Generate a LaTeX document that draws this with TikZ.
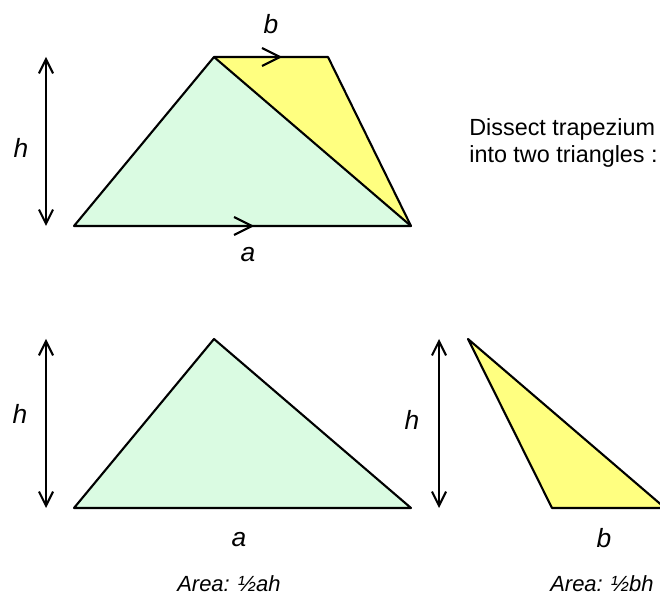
\documentclass[tikz,border=0pt]{standalone}
\usepackage{fontspec}
\setmainfont{Liberation Sans}
\usetikzlibrary{arrows.meta}
\definecolor{mint}{RGB}{218,251,226}
\definecolor{lemon}{RGB}{255,255,128}
\tikzset{
  edge/.style={line width=1.2pt, line join=round},
  dim/.style={line width=1.2pt, {Straight Barb[length=8pt,width=8pt,line width=1.2pt]}-{Straight Barb[length=8pt,width=8pt,line width=1.2pt]}},
  chev/.style={line width=1.2pt, line join=miter},
  lbl/.style={font=\fontsize{15}{17}\selectfont\itshape, inner sep=0pt},
  note/.style={font=\fontsize{13.3}{15.3}\selectfont, align=left, inner sep=0pt, anchor=west},
  area/.style={font=\fontsize{12.5}{14}\selectfont\itshape, inner sep=0pt}
}
\begin{document}
\begin{tikzpicture}[x=0.02cm, y=-0.02cm]
\useasboundingbox (0,0) rectangle (660,601);
% --- trapezium ---
\coordinate (TL) at (214,57);
\coordinate (TR) at (328,57);
\coordinate (BL) at (74,226);
\coordinate (BR) at (411,226);
\fill[mint] (BL) -- (TL) -- (BR) -- cycle;
\fill[lemon] (TL) -- (TR) -- (BR) -- cycle;
\draw[edge] (BL) -- (TL) -- (TR) -- (BR) -- cycle;
\draw[edge] (TL) -- (BR);
\draw[chev] (262,48) -- (280,57) -- (262,66);
\draw[chev] (234,217) -- (252,226) -- (234,235);
\coordinate (h1t) at (46,57);
\coordinate (h1b) at (46,226);
\draw[dim] (h1t) -- (h1b);
\node[lbl] (h1) at (21,148) {h};
\node[lbl] (b1) at (271,24) {b};
\node[lbl] (a1) at (248,255) {a};
\node[note] (dis) at (469,143) {Dissect trapezium\\into two triangles :};
% --- green triangle ---
\coordinate (gA) at (74,508);
\coordinate (gB) at (411,508);
\coordinate (gC) at (214,339);
\draw[edge, fill=mint] (gA) -- (gC) -- (gB) -- cycle;
\coordinate (h2t) at (46,339);
\coordinate (h2b) at (46,508);
\draw[dim] (h2t) -- (h2b);
\node[lbl] (h2) at (20,414) {h};
\node[lbl] (a2) at (239,540) {a};
\node[area] (ar1) at (229,584) {Area: ½ah};
% --- yellow triangle ---
\coordinate (yA) at (468,339);
\coordinate (yB) at (552,508);
\coordinate (yC) at (665,508);
\begin{scope}
\clip (0,0) rectangle (660,601);
\draw[edge, fill=lemon] (yA) -- (yB) -- (yC) -- cycle;
\end{scope}
\coordinate (h3t) at (439,339);
\coordinate (h3b) at (439,508);
\draw[dim] (h3t) -- (h3b);
\node[lbl] (h3) at (412,420) {h};
\node[lbl] (b3) at (604,538) {b};
\node[area] (ar2) at (602,584) {Area: ½bh};
\end{tikzpicture}
\end{document}
